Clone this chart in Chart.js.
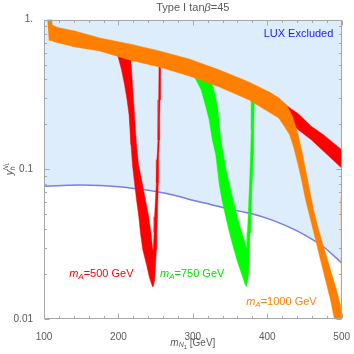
<!DOCTYPE html>
<html><head><meta charset="utf-8">
<script src="https://cdn.jsdelivr.net/npm/chart.js@4.4.0/dist/chart.umd.min.js"></script>
<style>html,body{margin:0;padding:0;background:#fff}canvas{display:block}</style>
</head><body>
<canvas id="c" width="354" height="354"></canvas>
<script>
// ---- axis ticks ----
const xTicks = [100, 200, 300, 400, 500];
const xMinorTicks = [120,140,160,180,220,240,260,280,320,340,360,380,420,440,460,480];
const yTicks = [0.01, 0.1, 1];
const yTickLabels = ['0.01', '0.1', '1.'];
const yMinorTicks = [0.02,0.03,0.04,0.05,0.06,0.07,0.08,0.09,0.2,0.3,0.4,0.5,0.6,0.7,0.8,0.9];

// ---- LUX exclusion boundary ----
const luxMass = [100,125,150,175,200,225,250,275,300,325,350,375,400,425,450,475,500];
const luxCoupling = [0.077,0.078,0.0785,0.078,0.0765,0.074,0.071,0.067,0.062,0.058,0.054,0.051,0.047,0.042,0.0365,0.0305,0.0237];

// ---- m_A = 1000 GeV region (orange), outline ----
const orangeMass = [111.0,118.7,128.1,141.4,174.8,214.9,255.0,295.1,335.2,375.3,402.0,415.4,426.1,434.1,440.8,446.1,451.5,456.8,462.2,468.9,476.9,484.9,492.9,498.3,500,
  490.2,484.9,478.2,471.5,464.9,458.2,451.5,446.1,440.8,435.4,430.1,423.4,415.4,375.3,335.2,295.1,255.0,214.9,174.8,141.4,114.7,110.0];
const orangeCoupling = [0.919,0.884,0.864,0.838,0.753,0.687,0.617,0.545,0.461,0.383,0.329,0.300,0.269,0.224,0.175,0.135,0.0992,0.0730,0.0537,0.0395,0.0291,0.0214,0.0157,0.0125,0.0100,
  0.0100,0.0135,0.0183,0.0249,0.0339,0.0461,0.0626,0.0851,0.1105,0.141,0.170,0.192,0.220,0.291,0.355,0.420,0.482,0.537,0.617,0.656,0.708,0.725];
const orangeSpikeMass = [104.5,110.5,111.5,110.5,106.5];
const orangeSpikeCoupling = [1.0,1.0,0.85,0.725,0.725];
const orangeEdgeMass = [498.8,500,500,499.3];
const orangeEdgeCoupling = [0.065,0.065,0.015,0.015];

// ---- m_A = 500 GeV region (red) ----
const redBandMass = [402.0,424.8,442.1,459.5,475.5,488.9,500,500,482.2,459.5,442.1,428.8,415.4,402.0];
const redBandCoupling = [0.329,0.269,0.234,0.193,0.170,0.150,0.135,0.102,0.123,0.157,0.183,0.207,0.231,0.269];
const redFunnelMass = [198.9,204.2,208.3,211.6,214.3,215.6,216.9,218.9,221.6,224.3,227.4,229.6,232.7,237.7,241.7,245.7,
  247.0,248.8,250.0,251.0,251.7,252.4,253.6,254.0,254.9,255.5,255.9,256.5,256.8,256.8,
  254.7,254.1,253.2,251.8,251.0,248.6,247.9,246.9,
  246.1,243.7,240.7,236.3,231.9,227.0,224.3,222.9,221.6,220.3,218.9,217.6,216.3];
const redFunnelCoupling = [0.580,0.461,0.366,0.291,0.231,0.183,0.146,0.107,0.0813,0.0626,0.0482,0.0377,0.0291,0.0231,0.0189,0.0165,
  0.0165,0.0183,0.0231,0.0291,0.0377,0.0482,0.0813,0.116,0.157,0.214,0.291,0.395,0.490,0.537,
  0.537,0.291,0.157,0.116,0.0813,0.0482,0.0377,0.0291,
  0.0291,0.0377,0.0482,0.0626,0.0813,0.107,0.146,0.183,0.231,0.291,0.366,0.461,0.580];

// ---- m_A = 750 GeV region (green) ----
const greenFunnelMass = [303.1,311.2,317.4,321.9,326.3,330.8,333.2,335.2,339.2,344.2,349.3,355.3,361.9,367.3,370.9,
  372.0,374.0,375.3,376.3,376.9,378.0,379.7,381.1,381.7,382.4,382.7,
  379.3,378.9,378.3,377.6,376.3,374.4,373.3,
  373.0,366.0,359.7,353.9,348.6,344.6,341.2,337.5,335.2,333.0,329.9,324.5];
const greenFunnelCoupling = [0.407,0.339,0.262,0.214,0.157,0.125,0.0992,0.0813,0.0626,0.0482,0.0377,0.0291,0.0225,0.0189,0.0167,
  0.0165,0.0183,0.0225,0.0291,0.0377,0.0482,0.0813,0.125,0.183,0.269,0.329,
  0.329,0.269,0.183,0.125,0.0813,0.0482,0.0377,
  0.0291,0.0377,0.0482,0.0626,0.0813,0.0992,0.125,0.157,0.214,0.262,0.314,0.395];

const zip = (xs, ys) => xs.map((v, i) => ({x: v, y: ys[i]}));
const poly = (xs, ys, color) => ({
  data: zip(xs, ys), showLine: true, fill: 'shape', backgroundColor: color,
  borderColor: color, borderWidth: 0.5, pointRadius: 0, tension: 0
});

const COL = {orange: '#ff8000', red: '#ff0000', green: '#00ff00', lux: 'rgb(222,237,252)', luxLine: 'rgb(122,122,248)', axis: '#a8a8a8', text: '#5a5a5a'};

const datasets = [
  poly(orangeMass, orangeCoupling, COL.orange),
  poly(orangeSpikeMass, orangeSpikeCoupling, COL.orange),
  poly(orangeEdgeMass, orangeEdgeCoupling, COL.orange),
  poly(redBandMass, redBandCoupling, COL.red),
  poly(redFunnelMass, redFunnelCoupling, COL.red),
  poly(greenFunnelMass, greenFunnelCoupling, COL.green),
  { data: zip(luxMass, luxCoupling), showLine: true, fill: 'end', backgroundColor: COL.lux,
    borderColor: COL.luxLine, borderWidth: 1.5, pointRadius: 0, tension: 0.3 }
];

function drawRich(ctx, parts, x, y, align) {
  let w = 0;
  for (const p of parts) { ctx.font = p.font; p.w = ctx.measureText(p.t).width; w += p.w; }
  let cx = align === 'center' ? x - w / 2 : x;
  ctx.textBaseline = 'middle'; ctx.textAlign = 'left';
  for (const p of parts) { ctx.font = p.font; ctx.fillStyle = p.color; ctx.fillText(p.t, cx, y + (p.dy || 0)); cx += p.w; }
}

const FF = '"Liberation Sans", Arial, sans-serif';
const labels = [
  {x: 442, y: 0.80, align: 'center', parts: [{t: 'LUX Excluded', font: '11px ' + FF, color: '#1a1aff'}]},
  {x: 133.8, y: 0.0200, align: 'left', c: COL.red},
  {x: 255.9, y: 0.0200, align: 'left', c: '#00e600'},
  {x: 371.7, y: 0.01294, align: 'left', c: COL.orange}
];
const massLabels = ['500', '750', '1000'];

const decor = {
  id: 'decor',
  afterDatasetsDraw(chart) {
    const {ctx, chartArea: a, scales: {x, y}} = chart;
    ctx.save();
    ctx.strokeStyle = COL.axis; ctx.lineWidth = 1;
    ctx.beginPath();
    const L = Math.round(a.left) + 0.5, R = Math.round(a.right) - 0.5, T = Math.round(a.top) + 0.5, B = Math.round(a.bottom) - 0.5;
    ctx.moveTo(L, T); ctx.lineTo(R, T); ctx.lineTo(R, B); ctx.lineTo(L, B); ctx.closePath();
    const tk = (v, len) => { const px = Math.round(x.getPixelForValue(v)) + 0.5;
      ctx.moveTo(px, B); ctx.lineTo(px, B - len); ctx.moveTo(px, T); ctx.lineTo(px, T + len); };
    xTicks.forEach(v => tk(v, 5)); xMinorTicks.forEach(v => tk(v, 2.5));
    const tky = (v, len) => { const py = Math.round(y.getPixelForValue(v)) + 0.5;
      ctx.moveTo(L, py); ctx.lineTo(L + len, py); ctx.moveTo(R, py); ctx.lineTo(R - len, py); };
    yTicks.forEach(v => tky(v, 5)); yMinorTicks.forEach(v => tky(v, 2.5));
    ctx.stroke();

    // annotations
    labels.forEach((l, i) => {
      const px = x.getPixelForValue(l.x), py = y.getPixelForValue(l.y);
      const parts = l.parts || [
        {t: 'm', font: 'italic 11px ' + FF, color: l.c},
        {t: 'A', font: 'italic 8px ' + FF, color: l.c, dy: 3},
        {t: '=' + massLabels[i - 1] + ' GeV', font: '11px ' + FF, color: l.c}
      ];
      drawRich(ctx, parts, px, py, l.align);
    });

    // title
    const cxm = (a.left + a.right) / 2;
    drawRich(ctx, [
      {t: 'Type I tan', font: '11px ' + FF, color: COL.text},
      {t: 'β', font: 'italic 11px ' + FF, color: COL.text},
      {t: '=45', font: '11px ' + FF, color: COL.text}
    ], cxm, 7.5, 'center');
    // x label
    drawRich(ctx, [
      {t: 'm', font: 'italic 10px ' + FF, color: COL.text},
      {t: 'N', font: 'italic 7px ' + FF, color: COL.text, dy: 2.5},
      {t: '1', font: '6px ' + FF, color: COL.text, dy: 4.5},
      {t: ' [GeV]', font: '10px ' + FF, color: COL.text}
    ], cxm, 343, 'center');
    // y label (rotated)
    ctx.save();
    ctx.translate(10, (a.top + a.bottom) / 2 - 2);
    ctx.rotate(-Math.PI / 2);
    ctx.font = 'italic 10px ' + FF; ctx.fillStyle = COL.text; ctx.textBaseline = 'middle'; ctx.textAlign = 'left';
    const wy = ctx.measureText('y').width;
    const x0 = -8;
    ctx.fillText('y', x0, 0);
    ctx.font = 'italic 7px ' + FF; ctx.fillText('h', x0 + wy, 3);
    ctx.fillText('N', x0 + wy, -4);
    const wn = ctx.measureText('N').width;
    ctx.font = 'italic 5px ' + FF; ctx.fillText('L', x0 + wy + wn, -2);
    ctx.restore();
    ctx.restore();
  }
};

new Chart(document.getElementById('c'), {
  type: 'scatter',
  data: {datasets},
  options: {
    responsive: false, animation: false, devicePixelRatio: 1,
    layout: {padding: {top: 19.5, right: 10.7, left: 0, bottom: 0}},
    plugins: {legend: {display: false}, tooltip: {enabled: false}},
    scales: {
      x: {
        type: 'linear', min: 100, max: 500,
        grid: {display: false}, border: {display: false},
        afterBuildTicks: s => { s.ticks = xTicks.map(v => ({value: v})); },
        ticks: {color: COL.text, font: {size: 10, family: FF}, padding: 4, maxRotation: 0, autoSkip: false},
        afterFit: s => { s.height = 35; }
      },
      y: {
        type: 'logarithmic', min: 0.01, max: 1,
        grid: {display: false}, border: {display: false},
        afterBuildTicks: s => { s.ticks = yTicks.map(v => ({value: v})); },
        ticks: {color: COL.text, font: {size: 10, family: FF}, padding: 3, autoSkip: false,
          callback: (v) => { const i = yTicks.findIndex(t => Math.abs(t - v) < 1e-9); return i >= 0 ? yTickLabels[i] : ''; }},
        afterFit: s => { s.width = 44; }
      }
    }
  },
  plugins: [decor]
});
</script>
</body></html>
